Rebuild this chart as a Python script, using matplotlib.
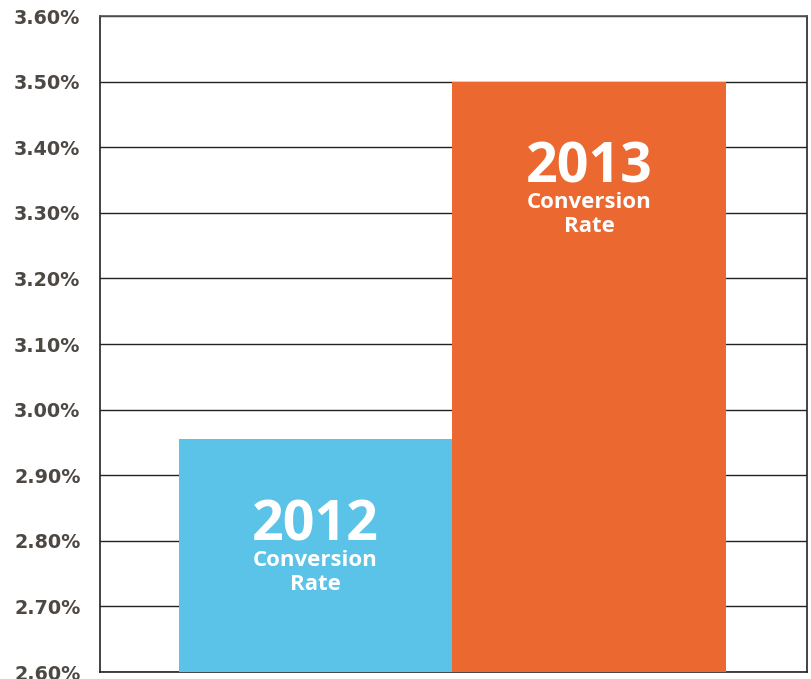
import matplotlib
matplotlib.use("Agg")
import matplotlib.pyplot as plt

categories = ["2012", "2013"]
values = [2.955, 3.50]
colors = ["#5AC3E7", "#EB6830"]
yticks = [2.6, 2.7, 2.8, 2.9, 3.0, 3.1, 3.2, 3.3, 3.4, 3.5, 3.6]
ytick_labels = ["2.60%", "2.70%", "2.80%", "2.90%", "3.00%", "3.10%", "3.20%", "3.30%", "3.40%", "3.50%", "3.60%"]
sub_label = "Conversion"
sub_label2 = "Rate"

fig = plt.figure(figsize=(8.11, 6.79), dpi=100)
ax = fig.add_axes([100/811, 7/679, 707/811, 656/679])

x = list(range(len(categories)))
ax.bar(x, values, width=1.0, color=colors, zorder=3, bottom=0)
ax.set_ylim(2.6, 3.6)
ax.set_xlim(-0.788, 1.797)
ax.set_yticks(yticks)
ax.set_yticklabels(ytick_labels, fontfamily="DejaVu Sans", fontweight="bold", fontsize=13.8, color="#4D4843")
ax.tick_params(axis="y", length=0, pad=14)
ax.set_xticks([])
ax.grid(axis="y", color="#222222", linewidth=1.0, zorder=1)

for s in ["left", "right", "bottom"]:
    ax.spines[s].set_color("#222222")
    ax.spines[s].set_linewidth(1.2)
ax.spines["top"].set_color("#555555")
ax.spines["top"].set_linewidth(1.2)

for xi, v, cat in zip(x, values, categories):
    ax.annotate(cat, xy=(xi, v), xytext=(0, -73), textcoords="offset points",
                ha="center", va="baseline", color="white", fontfamily="Open Sans",
                fontweight="bold", fontsize=40, zorder=4)
    ax.annotate(sub_label, xy=(xi, v), xytext=(0, -91), textcoords="offset points",
                ha="center", va="baseline", color="white", fontfamily="Open Sans",
                fontweight="bold", fontsize=16, zorder=4)
    ax.annotate(sub_label2, xy=(xi, v), xytext=(0, -108.5), textcoords="offset points",
                ha="center", va="baseline", color="white", fontfamily="Open Sans",
                fontweight="bold", fontsize=16, zorder=4)

fig.savefig("out.png", dpi=100)
